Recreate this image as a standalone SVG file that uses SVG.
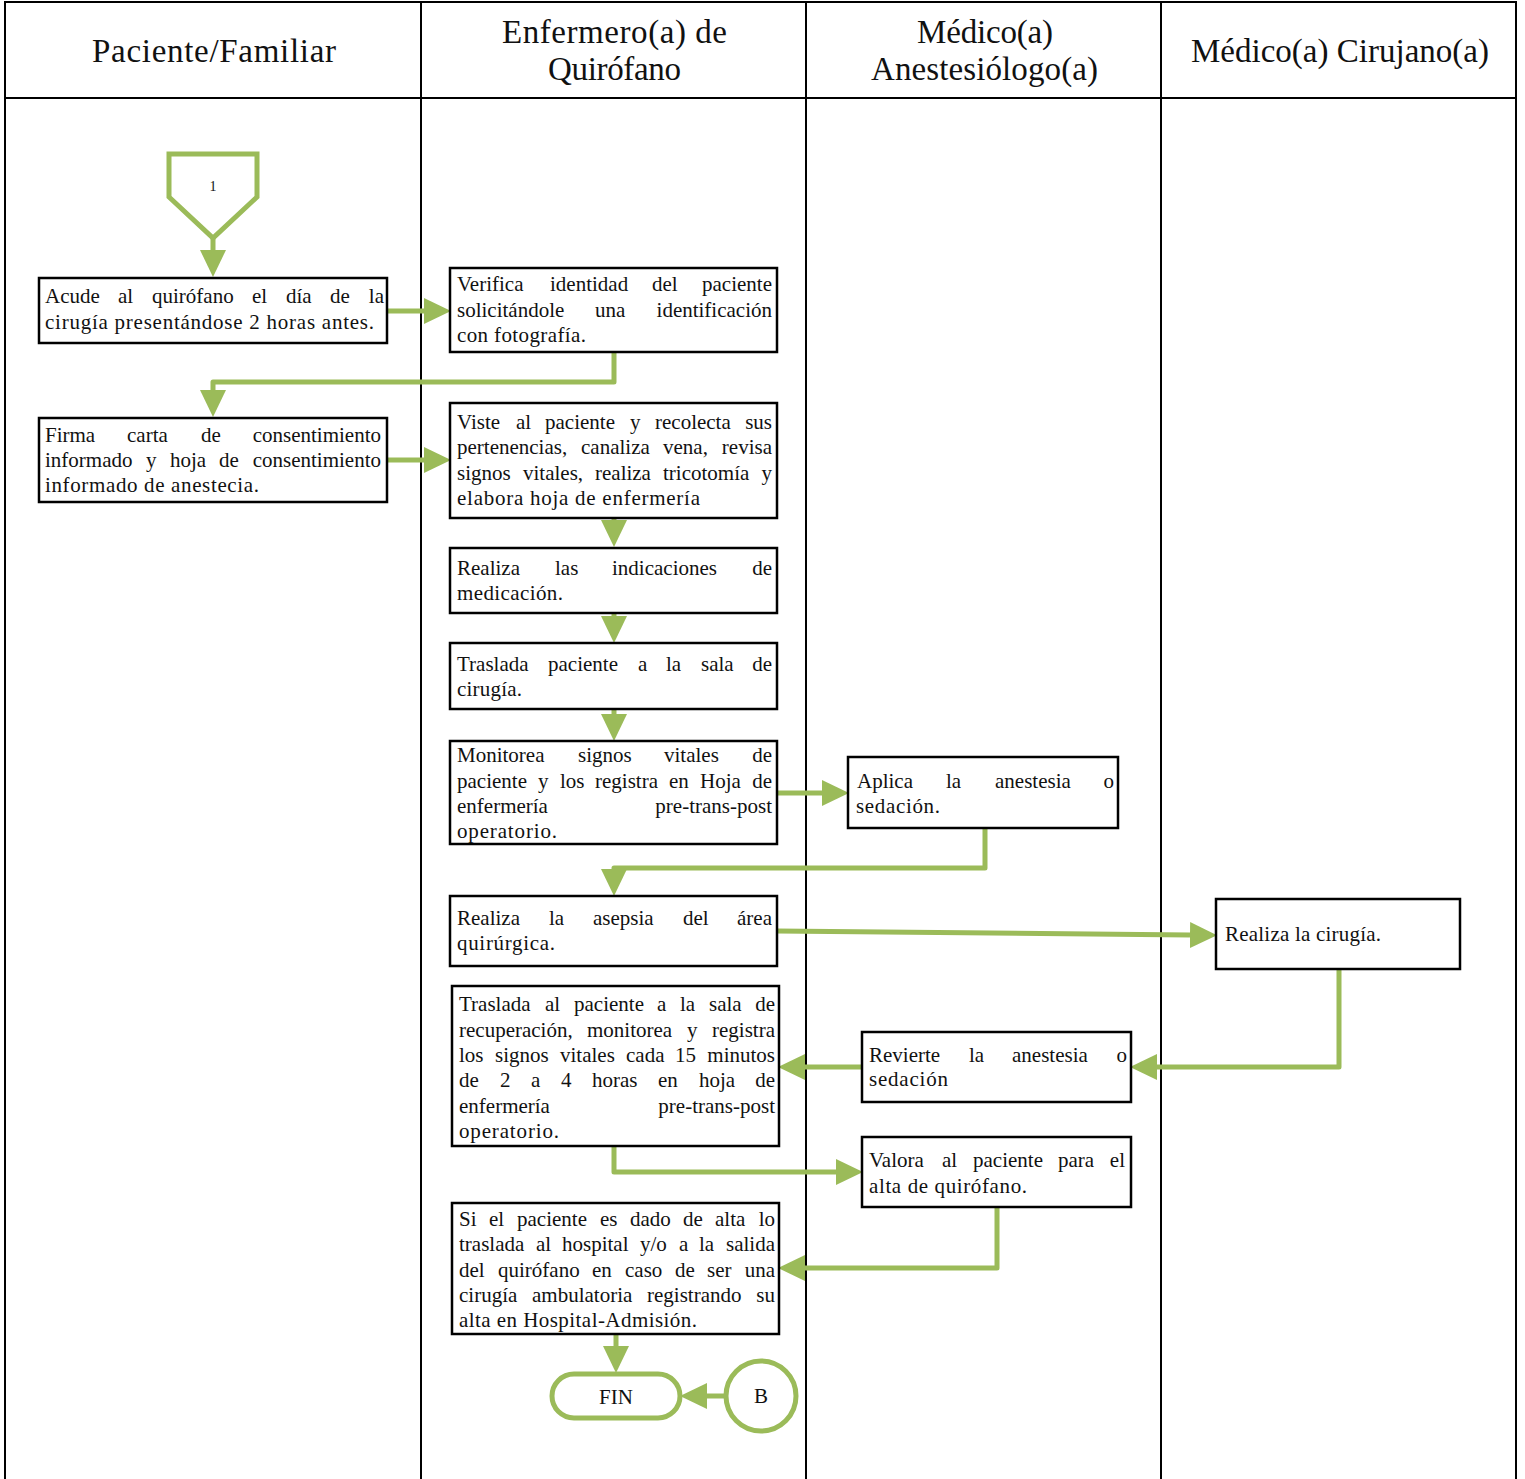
<svg xmlns="http://www.w3.org/2000/svg" width="1525" height="1479" viewBox="0 0 1525 1479">
<defs>
<style>
.lane{fill:none;stroke:#000;stroke-width:2}
.box{fill:#fff;stroke:#000;stroke-width:2.5}
.hd{font-family:"Liberation Serif",serif;font-size:33px;fill:#111}
.t{font-family:"Liberation Serif",serif;font-size:21px;fill:#111}
.e{text-anchor:end}
.c{fill:none;stroke:#9BBB59;stroke-width:5;stroke-linejoin:round}
.sym{fill:#fff;stroke:#9BBB59;stroke-width:5}
</style>
<marker id="ah" markerUnits="userSpaceOnUse" markerWidth="27" markerHeight="26" refX="0" refY="13" orient="auto" viewBox="0 0 27 26">
<path d="M0,0 L27,13 L0,26 z" fill="#9BBB59"/>
</marker>
</defs>
<g id="lanes">
<path class="lane" d="M5,1479 V2 H1516 V1479 M5,98 H1516 M421,2 V1479 M806,2 V1479 M1161,2 V1479"/>
<text class="hd" x="92" y="62" textLength="244">Paciente/Familiar</text>
<text class="hd" x="502" y="43" textLength="225">Enfermero(a) de</text>
<text class="hd" x="548" y="80" textLength="133">Quirófano</text>
<text class="hd" x="917" y="43" textLength="136">Médico(a)</text>
<text class="hd" x="871" y="80" textLength="227">Anestesiólogo(a)</text>
<text class="hd" x="1191" y="62" textLength="298">Médico(a) Cirujano(a)</text>
</g>
<g id="connectors">
<path class="c" d="M213,238 V250" marker-end="url(#ah)"/>
<path class="c" d="M387,311 H424" marker-end="url(#ah)"/>
<path class="c" d="M614,352 V382 H213 V390" marker-end="url(#ah)"/>
<path class="c" d="M387,460 H424" marker-end="url(#ah)"/>
<path class="c" d="M614,518 V520" marker-end="url(#ah)"/>
<path class="c" d="M614,613 V616" marker-end="url(#ah)"/>
<path class="c" d="M614,709 V714" marker-end="url(#ah)"/>
<path class="c" d="M777,793 H822" marker-end="url(#ah)"/>
<path class="c" d="M985,828 V868 H614 V869" marker-end="url(#ah)"/>
<path class="c" d="M777,931 L1190,935" marker-end="url(#ah)"/>
<path class="c" d="M1339,969 V1067 H1157" marker-end="url(#ah)"/>
<path class="c" d="M862,1067 H805" marker-end="url(#ah)"/>
<path class="c" d="M614,1146 V1172 H836" marker-end="url(#ah)"/>
<path class="c" d="M997,1207 V1268 H805" marker-end="url(#ah)"/>
<path class="c" d="M616,1334 V1346" marker-end="url(#ah)"/>
<path class="c" d="M726,1396 H707" marker-end="url(#ah)"/>
</g>
<g id="start">
<path class="sym" d="M169,154 H257 V197 L213,238 L169,197 Z"/>
<text x="213" y="191" text-anchor="middle" font-family="Liberation Serif,serif" font-size="14" fill="#111">1</text>
</g>
<g id="nodeA">
<rect class="box" x="39" y="278" width="348" height="65"/>
<text class="t" y="303"><tspan x="45">Acude</tspan><tspan x="118">al</tspan><tspan x="152">quirófano</tspan><tspan x="252">el</tspan><tspan x="286">día</tspan><tspan x="330">de</tspan><tspan class="e" x="384">la</tspan></text>
<text class="t" x="45" y="329" textLength="329">cirugía presentándose 2 horas antes.</text>
</g>
<g id="nodeB">
<rect class="box" x="450" y="268" width="327" height="84"/>
<text class="t" y="291"><tspan x="457">Verifica</tspan><tspan x="550">identidad</tspan><tspan x="652">del</tspan><tspan class="e" x="772">paciente</tspan></text>
<text class="t" y="317"><tspan x="457">solicitándole</tspan><tspan x="595">una</tspan><tspan class="e" x="772">identificación</tspan></text>
<text class="t" x="457" y="342" textLength="129">con fotografía.</text>
</g>
<g id="nodeC">
<rect class="box" x="39" y="418" width="348" height="84"/>
<text class="t" y="442"><tspan x="45">Firma</tspan><tspan x="127">carta</tspan><tspan x="201">de</tspan><tspan class="e" x="381">consentimiento</tspan></text>
<text class="t" y="467"><tspan x="45">informado</tspan><tspan x="146">y</tspan><tspan x="170">hoja</tspan><tspan x="219">de</tspan><tspan class="e" x="381">consentimiento</tspan></text>
<text class="t" x="45" y="492" textLength="214">informado de anestecia.</text>
</g>
<g id="nodeD">
<rect class="box" x="450" y="403" width="327" height="115"/>
<text class="t" y="429"><tspan x="457">Viste</tspan><tspan x="516">al</tspan><tspan x="545">paciente</tspan><tspan x="630">y</tspan><tspan x="655">recolecta</tspan><tspan class="e" x="772">sus</tspan></text>
<text class="t" y="454"><tspan x="457">pertenencias,</tspan><tspan x="581">canaliza</tspan><tspan x="663">vena,</tspan><tspan class="e" x="772">revisa</tspan></text>
<text class="t" y="480"><tspan x="457">signos</tspan><tspan x="523">vitales,</tspan><tspan x="595">realiza</tspan><tspan x="663">tricotomía</tspan><tspan class="e" x="772">y</tspan></text>
<text class="t" x="457" y="505" textLength="243">elabora hoja de enfermería</text>
</g>
<g id="nodeE">
<rect class="box" x="450" y="548" width="327" height="65"/>
<text class="t" y="575"><tspan x="457">Realiza</tspan><tspan x="555">las</tspan><tspan x="612">indicaciones</tspan><tspan class="e" x="772">de</tspan></text>
<text class="t" x="457" y="600" textLength="106">medicación.</text>
</g>
<g id="nodeF">
<rect class="box" x="450" y="643" width="327" height="66"/>
<text class="t" y="671"><tspan x="457">Traslada</tspan><tspan x="548">paciente</tspan><tspan x="638">a</tspan><tspan x="666">la</tspan><tspan x="701">sala</tspan><tspan class="e" x="772">de</tspan></text>
<text class="t" x="457" y="696" textLength="65">cirugía.</text>
</g>
<g id="nodeG">
<rect class="box" x="450" y="741" width="327" height="103"/>
<text class="t" y="762"><tspan x="457">Monitorea</tspan><tspan x="578">signos</tspan><tspan x="664">vitales</tspan><tspan class="e" x="772">de</tspan></text>
<text class="t" y="788"><tspan x="457">paciente</tspan><tspan x="538">y</tspan><tspan x="560">los</tspan><tspan x="595">registra</tspan><tspan x="669">en</tspan><tspan x="700">Hoja</tspan><tspan class="e" x="772">de</tspan></text>
<text class="t" y="813"><tspan x="457">enfermería</tspan><tspan class="e" x="772">pre-trans-post</tspan></text>
<text class="t" x="457" y="838" textLength="100">operatorio.</text>
</g>
<g id="nodeH">
<rect class="box" x="848" y="757" width="270" height="71"/>
<text class="t" y="788"><tspan x="857">Aplica</tspan><tspan x="946">la</tspan><tspan x="995">anestesia</tspan><tspan class="e" x="1114">o</tspan></text>
<text class="t" x="856" y="813" textLength="84">sedación.</text>
</g>
<g id="nodeI">
<rect class="box" x="450" y="896" width="327" height="70"/>
<text class="t" y="925"><tspan x="457">Realiza</tspan><tspan x="549">la</tspan><tspan x="593">asepsia</tspan><tspan x="683">del</tspan><tspan class="e" x="772">área</tspan></text>
<text class="t" x="457" y="950" textLength="98">quirúrgica.</text>
</g>
<g id="nodeJ">
<rect class="box" x="1216" y="899" width="244" height="70"/>
<text class="t" x="1225" y="941" textLength="156">Realiza la cirugía.</text>
</g>
<g id="nodeK">
<rect class="box" x="862" y="1032" width="269" height="70"/>
<text class="t" y="1062"><tspan x="869">Revierte</tspan><tspan x="969">la</tspan><tspan x="1012">anestesia</tspan><tspan class="e" x="1127">o</tspan></text>
<text class="t" x="869" y="1086" textLength="79">sedación</text>
</g>
<g id="nodeL">
<rect class="box" x="452" y="986" width="327" height="160"/>
<text class="t" y="1011"><tspan x="459">Traslada</tspan><tspan x="545">al</tspan><tspan x="574">paciente</tspan><tspan x="657">a</tspan><tspan x="680">la</tspan><tspan x="709">sala</tspan><tspan class="e" x="775">de</tspan></text>
<text class="t" y="1037"><tspan x="459">recuperación,</tspan><tspan x="587">monitorea</tspan><tspan x="687">y</tspan><tspan class="e" x="775">registra</tspan></text>
<text class="t" y="1062"><tspan x="459">los</tspan><tspan x="495">signos</tspan><tspan x="560">vitales</tspan><tspan x="626">cada</tspan><tspan x="675">15</tspan><tspan class="e" x="775">minutos</tspan></text>
<text class="t" y="1087"><tspan x="459">de</tspan><tspan x="500">2</tspan><tspan x="531">a</tspan><tspan x="561">4</tspan><tspan x="592">horas</tspan><tspan x="658">en</tspan><tspan x="699">hoja</tspan><tspan class="e" x="775">de</tspan></text>
<text class="t" y="1113"><tspan x="459">enfermería</tspan><tspan class="e" x="775">pre-trans-post</tspan></text>
<text class="t" x="459" y="1138" textLength="100">operatorio.</text>
</g>
<g id="nodeM">
<rect class="box" x="862" y="1137" width="269" height="70"/>
<text class="t" y="1167"><tspan x="869">Valora</tspan><tspan x="942">al</tspan><tspan x="973">paciente</tspan><tspan x="1058">para</tspan><tspan class="e" x="1125">el</tspan></text>
<text class="t" x="869" y="1193" textLength="158">alta de quirófano.</text>
</g>
<g id="nodeN">
<rect class="box" x="452" y="1203" width="327" height="131"/>
<text class="t" y="1226"><tspan x="459">Si</tspan><tspan x="489">el</tspan><tspan x="517">paciente</tspan><tspan x="600">es</tspan><tspan x="630">dado</tspan><tspan x="683">de</tspan><tspan x="715">alta</tspan><tspan class="e" x="775">lo</tspan></text>
<text class="t" y="1251"><tspan x="459">traslada</tspan><tspan x="536">al</tspan><tspan x="562">hospital</tspan><tspan x="640">y/o</tspan><tspan x="679">a</tspan><tspan x="699">la</tspan><tspan class="e" x="775">salida</tspan></text>
<text class="t" y="1277"><tspan x="459">del</tspan><tspan x="498">quirófano</tspan><tspan x="592">en</tspan><tspan x="625">caso</tspan><tspan x="675">de</tspan><tspan x="707">ser</tspan><tspan class="e" x="775">una</tspan></text>
<text class="t" y="1302"><tspan x="459">cirugía</tspan><tspan x="532">ambulatoria</tspan><tspan x="647">registrando</tspan><tspan class="e" x="775">su</tspan></text>
<text class="t" x="459" y="1327" textLength="238">alta en Hospital-Admisión.</text>
</g>
<g id="fin">
<rect class="sym" x="552" y="1374" width="128" height="44" rx="22"/>
<text class="t" x="616" y="1404" text-anchor="middle">FIN</text>
</g>
<g id="connB">
<circle class="sym" cx="761" cy="1396" r="35"/>
<text class="t" x="761" y="1403" text-anchor="middle">B</text>
</g>
</svg>
